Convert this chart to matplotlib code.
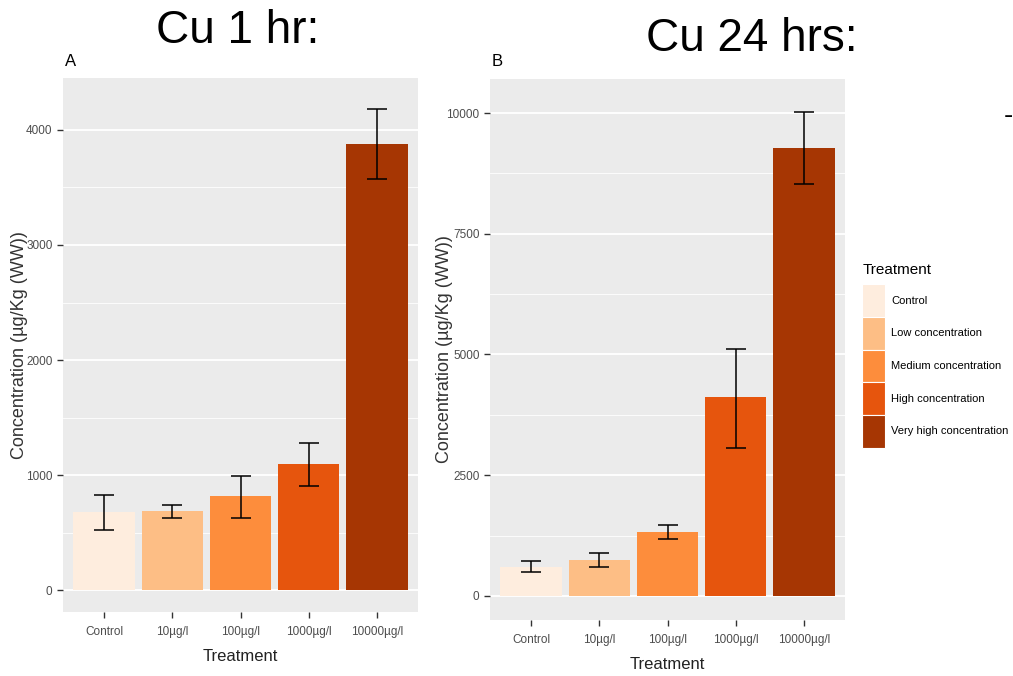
import matplotlib.pyplot as plt
from matplotlib.patches import Patch
from matplotlib.ticker import MultipleLocator

# data
treatments = ['Control', '10µg/l', '100µg/l', '1000µg/l', '10000µg/l']
legend_labels = ['Control', 'Low concentration', 'Medium concentration',
                 'High concentration', 'Very high concentration']
colors = ['#FEEDDE', '#FDBE85', '#FD8D3C', '#E6550D', '#A63603']

cu_1hr = [680, 685, 820, 1100, 3880]
cu_1hr_low = [525, 625, 630, 905, 3570]
cu_1hr_high = [830, 740, 990, 1280, 4180]

cu_24hr = [600, 740, 1330, 4120, 9280]
cu_24hr_low = [490, 590, 1180, 3070, 8530]
cu_24hr_high = [730, 900, 1470, 5120, 10020]

plt.rcParams['font.family'] = ['Liberation Sans', 'DejaVu Sans']

fig = plt.figure(figsize=(10.13, 6.76), dpi=100)
W, H = 1013, 676


def panel(px_left, px_top, px_right, px_bottom, vals, lo, hi, ylim, major,
          letter, title, title_xy, ylab_x):
    ax = fig.add_axes([px_left / W, 1 - px_bottom / H, (px_right - px_left) / W, (px_bottom - px_top) / H])
    ax.set_facecolor('#EBEBEB')
    x = list(range(len(vals)))
    ax.bar(x, vals, width=0.9, color=colors, zorder=3)
    yerr = [[v - l for v, l in zip(vals, lo)], [h - v for v, h in zip(vals, hi)]]
    ax.errorbar(x, vals, yerr=yerr, fmt='none', ecolor='black', elinewidth=1.1,
                capsize=7.5, capthick=1.1, zorder=4)
    ax.set_xlim(-0.6, 4.6)
    ax.set_ylim(*ylim)
    ax.yaxis.set_major_locator(MultipleLocator(major))
    ax.yaxis.set_minor_locator(MultipleLocator(major / 2))
    ax.grid(which='major', color='white', linewidth=1.3, zorder=0)
    ax.grid(which='minor', color='white', linewidth=0.6, zorder=0)
    ax.xaxis.grid(False, which='both')
    ax.set_axisbelow(True)
    for s in ax.spines.values():
        s.set_visible(False)
    ax.set_xticks(x)
    ax.set_xticklabels(treatments)
    ax.tick_params(axis='both', which='major', colors='#333333', labelcolor='#4D4D4D',
                   labelsize=8.5, length=4, width=1)
    ax.tick_params(axis='x', pad=6)
    ax.tick_params(axis='y', which='minor', length=0)
    ax.set_xlabel('Treatment', fontsize=12, color='#222222', labelpad=8)
    ax.set_ylabel('Concentration (µg/Kg (WW))', fontsize=13, color='#333333')
    ax.yaxis.set_label_coords((ylab_x - px_left) / (px_right - px_left), 0.5)
    fig.text(px_left / W + 0.002, 1 - 62 / H, letter, fontsize=12, va='center', ha='left')
    fig.text(title_xy[0] / W, 1 - title_xy[1] / H, title, fontsize=33,
             ha='center', va='center')
    return ax


panel(63, 78, 418, 612, cu_1hr, cu_1hr_low, cu_1hr_high, (-191, 4452), 1000,
      'A', 'Cu 1 hr:', (238, 31), 28)
panel(490, 79, 845, 620, cu_24hr, cu_24hr_low, cu_24hr_high, (-497, 10704), 2500,
      'B', 'Cu 24 hrs:', (752, 39), 453)

# legend
handles = [Patch(facecolor=c, edgecolor='white', linewidth=0.8, label=l)
           for c, l in zip(colors, legend_labels)]
leg = fig.legend(handles=handles, title='Treatment', loc='upper left',
                 bbox_to_anchor=(858 / W, 1 - 259 / H), frameon=False,
                 fontsize=8, title_fontsize=11, handlelength=2.0, handleheight=4.15,
                 handletextpad=0.6, labelspacing=0.0, borderaxespad=0)
leg._legend_box.align = 'left'
leg._legend_box.sep = 5

fig.text(1008 / W, 1 - 116 / H, '-', fontsize=20, ha='center', va='center')

fig.savefig('out.png', dpi=100, facecolor='white')
